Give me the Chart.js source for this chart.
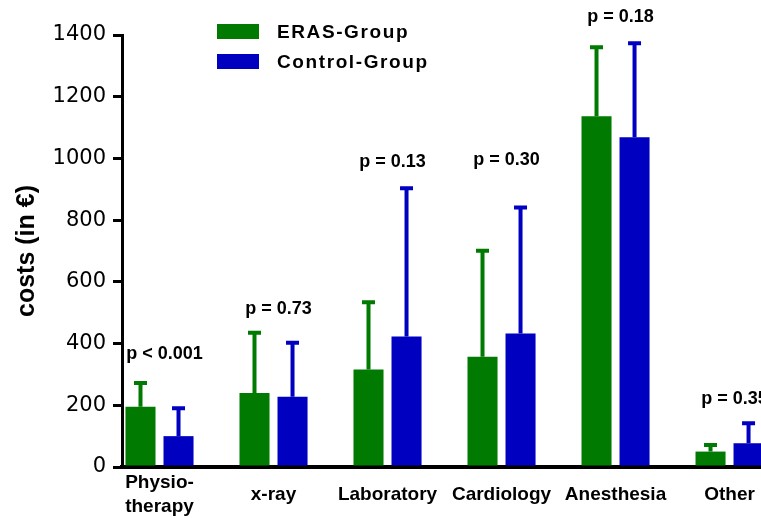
<!DOCTYPE html>
<html>
<head>
<meta charset="utf-8">
<script src="https://cdn.jsdelivr.net/npm/chart.js@4.4.1/dist/chart.umd.min.js"></script>
<style>
  html, body { margin: 0; padding: 0; background: #fff; overflow: hidden; }
  #wrap { width: 761px; height: 518px; }
</style>
</head>
<body>
<div id="wrap"><canvas id="costs" width="761" height="518"></canvas></div>
<script>
'use strict';

/* ── data ─────────────────────────────────────────────────────────────── */
const categories   = [['Physio-', 'therapy'], 'x-ray', 'Laboratory', 'Cardiology', 'Anesthesia', 'Other'];
const erasMean     = [195, 240, 316, 357, 1137, 50];
const erasUpper    = [272, 435, 534, 701, 1360, 71];
const controlMean  = [100, 228, 423, 433, 1069, 77];
const controlUpper = [190, 403, 903, 841, 1373, 142];
const pValues      = ['p < 0.001', 'p = 0.73', 'p = 0.13', 'p = 0.30', 'p = 0.18', 'p = 0.35'];
const pLevels      = [366, 512, 988, 995, 1458, 220];   // label anchor, in € units
const yTicks       = [0, 200, 400, 600, 800, 1000, 1200, 1400];

const GREEN = '#007a00';
const BLUE  = '#0000c0';
const FONT  = '"Liberation Sans", Arial, Helvetica, sans-serif';

const pts = arr => arr.map((v, i) => ({ x: i + 1, y: v }));

/* ── plugins ──────────────────────────────────────────────────────────── */
const errorBars = {
  id: 'errorBars',
  afterDatasetsDraw(chart) {
    const ctx = chart.ctx, ys = chart.scales.y;
    chart.data.datasets.forEach((ds, di) => {
      chart.getDatasetMeta(di).data.forEach((bar, i) => {
        const top = ys.getPixelForValue(ds.upper[i]);
        ctx.save();
        ctx.strokeStyle = ds.backgroundColor;
        ctx.lineWidth = 4;
        ctx.beginPath();
        ctx.moveTo(bar.x, bar.y);
        ctx.lineTo(bar.x, top);
        ctx.moveTo(bar.x - 6.5, top);
        ctx.lineTo(bar.x + 6.5, top);
        ctx.stroke();
        ctx.restore();
      });
    });
  }
};

const pLabels = {
  id: 'pLabels',
  afterDraw(chart) {
    const ctx = chart.ctx, xs = chart.scales.x, ys = chart.scales.y;
    ctx.save();
    ctx.fillStyle = '#000';
    ctx.font = 'bold 18px ' + FONT;
    ctx.textAlign = 'center';
    ctx.textBaseline = 'middle';
    pValues.forEach((t, i) => ctx.fillText(t, xs.getPixelForValue(i + 1) + 5, ys.getPixelForValue(pLevels[i])));
    ctx.restore();
  }
};

const boxLegend = {
  id: 'boxLegend',
  afterDraw(chart) {
    const ctx = chart.ctx;
    ctx.save();
    ctx.font = 'bold 19px ' + FONT;
    ctx.letterSpacing = '1.6px';
    ctx.textBaseline = 'middle';
    ctx.textAlign = 'left';
    chart.data.datasets.forEach((ds, i) => {
      const y = 24 + i * 30;
      ctx.fillStyle = ds.backgroundColor;
      ctx.fillRect(217, y, 42, 15);
      ctx.fillStyle = '#000';
      ctx.fillText(ds.label, 277, y + 8.5);
    });
    ctx.restore();
  }
};

/* ── chart ────────────────────────────────────────────────────────────── */
Chart.defaults.font.family = FONT;
Chart.defaults.color = '#000';

new Chart(document.getElementById('costs'), {
  type: 'bar',
  data: {
    datasets: [
      { label: 'ERAS-Group',    data: pts(erasMean),    upper: erasUpper,    backgroundColor: GREEN },
      { label: 'Control-Group', data: pts(controlMean), upper: controlUpper, backgroundColor: BLUE }
    ]
  },
  options: {
    responsive: false,
    animation: false,
    devicePixelRatio: 1,
    categoryPercentage: 0.667,
    barPercentage: 0.79,
    layout: { padding: { top: 35, left: 0, right: 0, bottom: 0 } },
    plugins: { legend: { display: false }, tooltip: { enabled: false } },
    scales: {
      x: {
        type: 'linear',
        offset: false,
        min: 0.671,
        max: 6.276,
        grid: { display: false },
        border: { display: true, width: 4, color: '#000' },
        afterBuildTicks: s => { s.ticks = categories.map((c, i) => ({ value: i + 1 })); },
        ticks: {
          autoSkip: false,
          maxRotation: 0,
          crossAlign: 'center',
          padding: 8,
          font: { size: 19, weight: 'bold', lineHeight: 1.25 },
          callback: v => categories[Math.round(v) - 1]
        },
        afterFit: s => { s.height = 51; s.paddingLeft = 0; s.paddingRight = 0; }
      },
      y: {
        min: 0,
        max: 1400,
        afterBuildTicks: s => { s.ticks = yTicks.map(v => ({ value: v })); },
        grid: { drawOnChartArea: false, drawTicks: true, tickLength: 9, lineWidth: 3, color: '#000' },
        border: { display: true, width: 3, color: '#000' },
        ticks: { padding: 7, font: { family: '"DejaVu Sans", sans-serif', size: 21 }, callback: v => String(v) },
        title: {
          display: true,
          text: 'costs (in €)',
          font: { size: 25, weight: 'bold' },
          padding: { top: 12, bottom: 0 }
        },
        afterFit: s => { s.width = 122; s.paddingTop = 0; s.paddingBottom = 0; }
      }
    }
  },
  plugins: [errorBars, pLabels, boxLegend]
});
</script>
</body>
</html>
